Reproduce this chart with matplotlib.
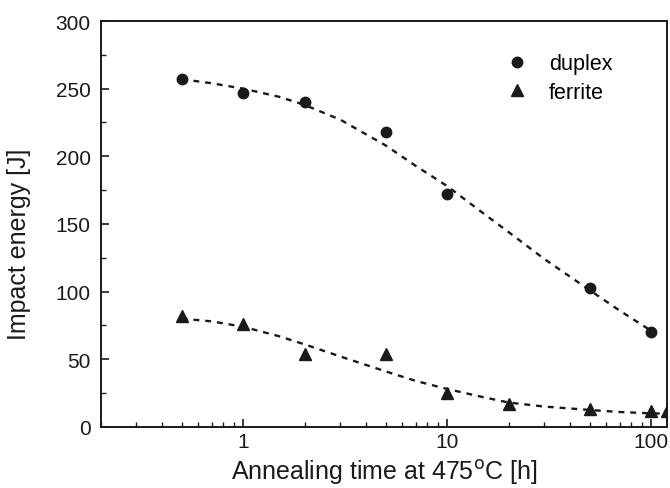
import matplotlib
matplotlib.use("Agg")
import matplotlib.pyplot as plt
from matplotlib.ticker import MultipleLocator, LogLocator, FixedLocator, NullFormatter

plt.rcParams['font.family'] = ['Liberation Sans', 'DejaVu Sans']

# measured points
duplex_t = [0.5, 1, 2, 5, 10, 50, 100]
duplex_e = [257, 247, 240, 218, 172, 103, 70]
ferrite_t = [0.5, 1, 2, 5, 10, 20, 50, 100, 120]
ferrite_e = [82, 76, 54, 54, 25, 17, 13, 12, 12]

# dashed fit curves
duplex_fit_t = [0.5, 0.7, 1, 1.5, 2, 3, 5, 7, 10, 15, 20, 30, 50, 70, 100]
duplex_fit_e = [257, 254, 250, 244, 238, 227, 208, 193, 178, 158, 144, 124, 101, 86, 71]
ferrite_fit_t = [0.5, 0.7, 1, 1.5, 2, 3, 5, 7, 10, 15, 20, 30, 50, 70, 100, 120]
ferrite_fit_e = [80, 78, 74, 67, 61, 52, 41, 34, 28, 22, 18, 15, 12.5, 11, 10, 9.8]

fig = plt.figure(figsize=(6.7, 4.89), dpi=100)
ax = fig.add_axes([0.150, 0.125, 0.846, 0.830])

ink = '#1a1a1a'
ax.plot(duplex_fit_t, duplex_fit_e, color=ink, lw=1.7, ls=(0, (2.5, 2.5)))
ax.plot(ferrite_fit_t, ferrite_fit_e, color=ink, lw=1.7, ls=(0, (2.5, 2.5)))
ax.plot(duplex_t, duplex_e, 'o', color=ink, ms=7.5, label='duplex')
ax.plot(ferrite_t, ferrite_e, '^', color=ink, ms=8, label='ferrite')

ax.set_xscale('log')
ax.set_xlim(0.2, 120)
ax.set_ylim(0, 300)
ax.xaxis.set_major_locator(FixedLocator([1, 10, 100]))
ax.xaxis.set_minor_locator(LogLocator(base=10, subs=range(2, 10), numticks=20))
ax.xaxis.set_minor_formatter(NullFormatter())
ax.set_xticklabels(['1', '10', '100'])
ax.yaxis.set_major_locator(MultipleLocator(50))
ax.yaxis.set_minor_locator(MultipleLocator(25))

ax.tick_params(which='both', direction='in', top=False, right=False,
               labelsize=15, colors=ink)
ax.tick_params(which='major', length=6, width=1.2)
ax.tick_params(which='minor', length=3.5, width=1.0)
ax.tick_params(axis='x', pad=4)
ax.tick_params(axis='y', pad=7)
for s in ax.spines.values():
    s.set_linewidth(1.4)
    s.set_color(ink)

ax.set_xlabel('Annealing time at 475$^{\\mathrm{o}}$C [h]', fontsize=18, color=ink,
              labelpad=4)
ax.set_ylabel('Impact energy [J]', fontsize=18, color=ink)
ax.yaxis.set_label_coords(-0.122, 0.453)

ax.legend(loc='upper left', frameon=False, fontsize=15.5,
          bbox_to_anchor=(0.685, 0.968), handlelength=0.8, handletextpad=1.1,
          labelspacing=0.35)

fig.savefig('out.png', dpi=100)
